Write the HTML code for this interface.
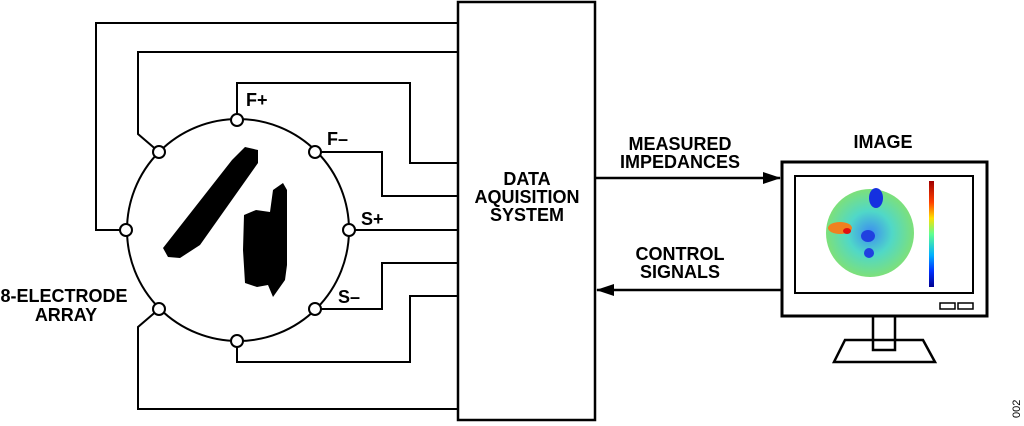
<!DOCTYPE html>
<html><head><style>body{margin:0;background:#fff}svg{display:block}text{font-family:"Liberation Sans",sans-serif;font-weight:bold;font-size:18px;fill:#000}</style></head><body>
<svg width="1024" height="426" viewBox="0 0 1024 426">
<defs>
<radialGradient id="hm" cx="0.5" cy="0.5" r="0.5"><stop offset="0" stop-color="#3c8cf0"/><stop offset="0.5" stop-color="#50d8c8"/><stop offset="1" stop-color="#7de07a"/></radialGradient>
<linearGradient id="cb" x1="0" y1="0" x2="0" y2="1"><stop offset="0" stop-color="#a00000"/><stop offset="0.2" stop-color="#ff4000"/><stop offset="0.35" stop-color="#ffe000"/><stop offset="0.5" stop-color="#60ff90"/><stop offset="0.7" stop-color="#00b0ff"/><stop offset="0.85" stop-color="#0030ff"/><stop offset="1" stop-color="#000090"/></linearGradient>
<marker id="a" markerWidth="18" markerHeight="12" refX="17" refY="6" orient="auto" markerUnits="userSpaceOnUse"><path d="M0,0L18,6L0,12Z"/></marker>
</defs>
<g fill="none" stroke="#000" stroke-width="2">
<rect x="458" y="2" width="137" height="418" stroke-width="2.5"/>
<circle cx="238" cy="230" r="111"/>
<polyline points="126,230 96,230 96,23 458,23"/>
<polyline points="159,152 138,134 138,52 458,52"/>
<polyline points="237,120 237,83 410,83 410,163 458,163"/>
<polyline points="315,152 382,152 382,196 458,196"/>
<polyline points="349,230 458,230"/>
<polyline points="315,309 382,309 382,263 458,263"/>
<polyline points="237,341 237,362 410,362 410,296 458,296"/>
<polyline points="159,309 138,327 138,409 458,409"/>
<line x1="595" y1="178" x2="780" y2="178" stroke-width="2.5" marker-end="url(#a)"/>
<line x1="782" y1="290" x2="597" y2="290" stroke-width="2.5" marker-end="url(#a)"/>
<rect x="782" y="162" width="205" height="154" stroke-width="3"/>
<rect x="795" y="176" width="178" height="117"/>
<rect x="940" y="303" width="15" height="6" stroke-width="1.5"/>
<rect x="958" y="303" width="15" height="6" stroke-width="1.5"/>
<rect x="873" y="316" width="22" height="34" stroke-width="2.5"/>
<polygon points="845,340 923,340 935,362 834,362" stroke-width="2.5"/>
</g>
<g fill="#fff" stroke="#000" stroke-width="2">
<circle cx="237" cy="120" r="6"/><circle cx="315" cy="152" r="6"/><circle cx="349" cy="230" r="6"/><circle cx="315" cy="309" r="6"/>
<circle cx="237" cy="341" r="6"/><circle cx="159" cy="309" r="6"/><circle cx="126" cy="230" r="6"/><circle cx="159" cy="152" r="6"/>
</g>
<polygon points="163,248 232,160 245,147 258,150 258,163 200,245 180,258 168,257" fill="#000"/>
<polygon points="244,215 256,210 270,212 273,190 283,183 287,190 287,265 285,280 273,297 268,285 257,287 245,283 243,250" fill="#000"/>
<circle cx="870" cy="233" r="44" fill="url(#hm)"/>
<ellipse cx="876" cy="198" rx="7" ry="10" fill="#1530e0"/>
<ellipse cx="840" cy="228" rx="12" ry="6" fill="#f08020"/>
<ellipse cx="847" cy="231" rx="4" ry="3" fill="#e01010"/>
<ellipse cx="868" cy="236" rx="7" ry="6" fill="#2040e0"/>
<ellipse cx="869" cy="253" rx="5" ry="5" fill="#2040e0"/>
<rect x="929" y="181" width="5" height="106" fill="url(#cb)"/>
<text x="680" y="150" text-anchor="middle">MEASURED</text>
<text x="680" y="168" text-anchor="middle">IMPEDANCES</text>
<text x="883" y="148" text-anchor="middle">IMAGE</text>
<text x="680" y="260" text-anchor="middle">CONTROL</text>
<text x="680" y="278" text-anchor="middle">SIGNALS</text>
<text x="527" y="185" text-anchor="middle">DATA</text>
<text x="527" y="203" text-anchor="middle">AQUISITION</text>
<text x="527" y="221" text-anchor="middle">SYSTEM</text>
<text x="64" y="302" text-anchor="middle">8-ELECTRODE</text>
<text x="66" y="321" text-anchor="middle">ARRAY</text>
<text x="246" y="106">F+</text>
<text x="327" y="145">F–</text>
<text x="361" y="225">S+</text>
<text x="338" y="303">S–</text>
<text x="0" y="0" transform="translate(1020,418) rotate(-90)" style="font-weight:normal;font-size:11px">002</text>
</svg>
</body></html>
